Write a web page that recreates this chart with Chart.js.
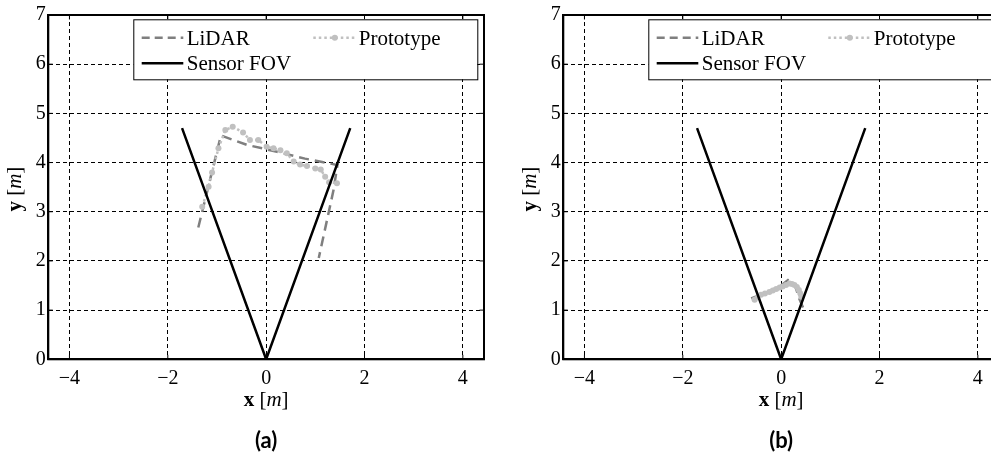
<!DOCTYPE html>
<html>
<head>
<meta charset="utf-8">
<script src="https://cdn.jsdelivr.net/npm/chart.js@4/dist/chart.umd.min.js"></script>
<style>
  html, body { margin: 0; padding: 0; width: 991px; height: 456px; overflow: hidden; background: #fff; }
  canvas { position: absolute; top: 0; }
  #plotA { left: 0; }
  #plotB { left: 515px; }
</style>
</head>
<body>
<canvas id="plotA" width="495" height="456"></canvas>
<canvas id="plotB" width="495" height="456"></canvas>
<script>
// Tick values for both panels
const xTickVals = [-4, -2, 0, 2, 4];
const yTickVals = [0, 1, 2, 3, 4, 5, 6, 7];

// Sensor field of view (5 m range, +/-20 deg)
const fovX = [-1.71, 0, 1.71];
const fovY = [4.70, 0, 4.70];

// Panel (a): wall corner seen by both sensors
const lidarAX = [-1.38, -0.92, -0.39, 0.22, 0.79, 1.45, 1.37, 1.07];
const lidarAY = [2.68, 4.55, 4.36, 4.22, 4.08, 3.95, 3.44, 2.06];
const protoAX = [-1.30, -1.17, -1.10, -0.97, -0.83, -0.68, -0.47, -0.33, -0.16, 0.01, 0.15, 0.29, 0.42, 0.56, 0.69, 0.83, 1.00, 1.11, 1.20, 1.28, 1.44];
const protoAY = [3.10, 3.51, 3.80, 4.29, 4.66, 4.73, 4.61, 4.46, 4.46, 4.32, 4.29, 4.25, 4.19, 4.02, 3.96, 3.93, 3.88, 3.86, 3.71, 3.60, 3.58];

// Panel (b): close obstacle
const lidarBX = [-0.61, -0.45, -0.25, 0.00, 0.14, 0.28, 0.36, 0.48];
const lidarBY = [1.24, 1.30, 1.38, 1.50, 1.61, 1.52, 1.25, 0.97];
const protoBX = [-0.54, -0.48, -0.41, -0.33, -0.24, -0.17, -0.10, -0.03, 0.03, 0.10, 0.17, 0.22, 0.27, 0.32, 0.36, 0.39, 0.41];
const protoBY = [1.21, 1.26, 1.31, 1.34, 1.37, 1.40, 1.43, 1.46, 1.48, 1.51, 1.54, 1.53, 1.51, 1.47, 1.41, 1.34, 1.27];

const SERIF = '"Liberation Serif", "Times New Roman", serif';
const LIDAR_COLOR = '#7f7f7f';
const PROTO_COLOR = '#c0c0c0';

function pts(xs, ys) { return xs.map((x, i) => ({ x: x, y: ys[i] })); }
function fmtTick(v) { return v < 0 ? '\u2212' + Math.abs(v) : String(v); }

// Draw a run of differently styled text pieces centred on cx
function drawRich(ctx, parts, cx, y) {
  let total = 0;
  parts.forEach(p => { ctx.font = p.font; p.w = ctx.measureText(p.text).width; total += p.w; });
  let x = cx - total / 2;
  ctx.textAlign = 'left';
  ctx.textBaseline = 'alphabetic';
  parts.forEach(p => { ctx.font = p.font; ctx.fillText(p.text, x, y); x += p.w; });
}

const decorPlugin = {
  id: 'decor',
  afterDraw(chart, args, opts) {
    const ctx = chart.ctx;
    const a = chart.chartArea;
    const xs = chart.scales.x, ys = chart.scales.y;
    ctx.save();

    // inward tick marks on all four sides
    ctx.strokeStyle = '#000';
    ctx.lineWidth = 1;
    ctx.setLineDash([]);
    const tl = 4.5;
    ctx.beginPath();
    xTickVals.forEach(v => {
      const px = xs.getPixelForValue(v);
      ctx.moveTo(px, a.bottom); ctx.lineTo(px, a.bottom - tl);
      ctx.moveTo(px, a.top); ctx.lineTo(px, a.top + tl);
    });
    yTickVals.forEach(v => {
      const py = ys.getPixelForValue(v);
      ctx.moveTo(a.left, py); ctx.lineTo(a.left + tl, py);
      ctx.moveTo(a.right, py); ctx.lineTo(a.right - tl, py);
    });
    ctx.stroke();

    // axes box
    ctx.lineWidth = 2;
    ctx.strokeRect(a.left, a.top, a.right - a.left, a.bottom - a.top);

    // legend
    const bx = a.left + 85, by = a.top + 4.3, bw = a.right - 6.7 - bx, bh = 60;
    ctx.fillStyle = '#fff';
    ctx.fillRect(bx, by, bw, bh);
    ctx.lineWidth = 1;
    ctx.strokeStyle = '#000';
    ctx.strokeRect(bx + 0.5, by + 0.5, bw, bh);

    const row1 = by + 18.4, row2 = by + 44;
    ctx.font = '21px ' + SERIF;
    ctx.fillStyle = '#000';
    ctx.textAlign = 'left';
    ctx.textBaseline = 'alphabetic';

    // LiDAR sample
    ctx.strokeStyle = LIDAR_COLOR; ctx.lineWidth = 2.5; ctx.setLineDash([8, 5]);
    ctx.beginPath(); ctx.moveTo(bx + 8.4, row1); ctx.lineTo(bx + 50, row1); ctx.stroke();
    ctx.fillText('LiDAR', bx + 53.4, row1 + 6.8);

    // Prototype sample
    ctx.strokeStyle = PROTO_COLOR; ctx.lineWidth = 2.5; ctx.setLineDash([2.5, 3]);
    ctx.beginPath(); ctx.moveTo(bx + 180, row1); ctx.lineTo(bx + 223, row1); ctx.stroke();
    ctx.setLineDash([]);
    ctx.fillStyle = PROTO_COLOR;
    ctx.beginPath(); ctx.arc(bx + 201.5, row1, 3, 0, Math.PI * 2); ctx.fill();
    ctx.fillStyle = '#000';
    ctx.fillText('Prototype', bx + 225.5, row1 + 6.8);

    // Sensor FOV sample
    ctx.strokeStyle = '#000'; ctx.lineWidth = 2.5;
    ctx.beginPath(); ctx.moveTo(bx + 8.4, row2); ctx.lineTo(bx + 50, row2); ctx.stroke();
    ctx.fillText('Sensor FOV', bx + 53.4, row2 + 6.8);

    // axis titles
    const cx = (a.left + a.right) / 2;
    ctx.fillStyle = '#000';
    drawRich(ctx, [
      { text: 'x', font: 'bold 21px ' + SERIF },
      { text: ' [', font: '21px ' + SERIF },
      { text: 'm', font: 'italic 21px ' + SERIF },
      { text: ']', font: '21px ' + SERIF }
    ], cx, 405.5);

    ctx.save();
    ctx.translate(a.left - 27.3, (a.top + a.bottom) / 2 + 2);
    ctx.rotate(-Math.PI / 2);
    drawRich(ctx, [
      { text: 'y', font: 'bold 21px ' + SERIF },
      { text: ' [', font: '21px ' + SERIF },
      { text: 'm', font: 'italic 21px ' + SERIF },
      { text: ']', font: '21px ' + SERIF }
    ], 0, 0);
    ctx.restore();

    // panel caption
    ctx.font = 'bold 22px Lato, "Noto Sans", sans-serif';
    ctx.textAlign = 'center';
    ctx.textBaseline = 'middle';
    ctx.fillText(opts.caption, cx, 441);

    ctx.restore();
  }
};

function makePanel(id, caption, lidarX, lidarY, protoX, protoY) {
  const tickFont = { family: SERIF, size: 20 };
  return new Chart(document.getElementById(id), {
    type: 'scatter',
    data: {
      datasets: [
        {
          label: 'Sensor FOV', data: pts(fovX, fovY), showLine: true, order: 0,
          borderColor: '#000', borderWidth: 2.5, pointRadius: 0, fill: false
        },
        {
          label: 'Prototype', data: pts(protoX, protoY), showLine: true, order: 1,
          borderColor: PROTO_COLOR, borderWidth: 2.5, borderDash: [2.5, 3],
          pointRadius: 3, pointBackgroundColor: PROTO_COLOR, pointBorderWidth: 0, fill: false
        },
        {
          label: 'LiDAR', data: pts(lidarX, lidarY), showLine: true, order: 2,
          borderColor: LIDAR_COLOR, borderWidth: 2.5, borderDash: [10, 6], pointRadius: 0, fill: false
        }
      ]
    },
    options: {
      responsive: false,
      animation: false,
      events: [],
      layout: { autoPadding: false, padding: { left: 0, top: 15, right: 11, bottom: 0 } },
      plugins: { legend: { display: false }, tooltip: { enabled: false }, decor: { caption: caption } },
      scales: {
        x: {
          type: 'linear', min: -4.43, max: 4.43,
          afterBuildTicks: s => { s.ticks = xTickVals.map(v => ({ value: v })); },
          afterFit: s => { s.height = 96.7; },
          ticks: { font: tickFont, color: '#000', padding: 7, maxRotation: 0, autoSkip: false, callback: v => fmtTick(v) },
          grid: { color: '#000', lineWidth: 1, drawTicks: false },
          border: { display: true, color: '#000', width: 2, dash: [4, 3] }
        },
        y: {
          type: 'linear', min: 0, max: 7,
          afterBuildTicks: s => { s.ticks = yTickVals.map(v => ({ value: v })); },
          afterFit: s => { s.width = 48.3; },
          ticks: { font: tickFont, color: '#000', padding: 2.5, autoSkip: false, callback: v => fmtTick(v) },
          grid: { color: '#000', lineWidth: 1, drawTicks: false },
          border: { display: true, color: '#000', width: 2, dash: [4, 3] }
        }
      }
    },
    plugins: [decorPlugin]
  });
}

makePanel('plotA', '(a)', lidarAX, lidarAY, protoAX, protoAY);
makePanel('plotB', '(b)', lidarBX, lidarBY, protoBX, protoBY);
</script>
</body>
</html>
